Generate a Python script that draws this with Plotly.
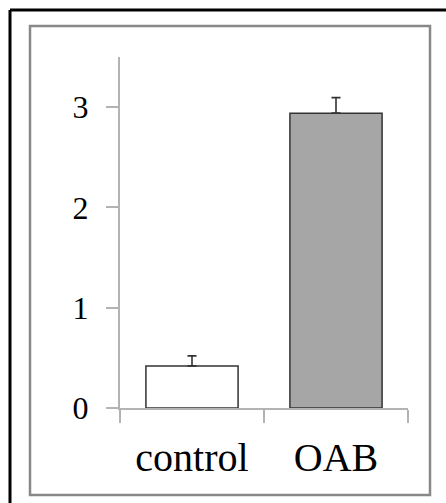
import plotly.graph_objects as go

categories = ["control", "OAB"]
values = [0.42, 2.94]
errors = [0.10, 0.155]
bar_colors = ["#ffffff", "#a6a6a6"]
y_ticks = [0, 1, 2, 3]

W, H = 446, 503
L, R, T, B = 120, 38, 57, 95

fig = go.Figure()
fig.add_trace(go.Bar(
    x=categories, y=values,
    width=0.64,
    marker=dict(color=bar_colors, line=dict(color="#333333", width=1.5)),
    error_y=dict(type="data", array=errors, arrayminus=[0, 0], symmetric=False,
                 color="#333333", thickness=1.6, width=4.5),
    showlegend=False,
))

pw = W - L - R
ph = H - T - B
def px(x):
    return (x - L) / pw
def py(y):
    return (H - B - y) / ph

fig.update_layout(
    width=W, height=H,
    margin=dict(l=L, r=R, t=T, b=B),
    paper_bgcolor="white", plot_bgcolor="white",
    font=dict(family="Liberation Serif", color="black"),
    xaxis=dict(type="category", range=[-0.5, 1.5], tickson="boundaries",
               ticks="outside", ticklen=13, tickwidth=2, tickcolor="#b3b3b3",
               showline=True, linecolor="#b3b3b3", linewidth=2,
               showgrid=False, zeroline=False,
               tickfont=dict(size=40, family="Liberation Serif", color="black"),
               ticklabelstandoff=13),
    yaxis=dict(range=[0, 3.5], tickvals=y_ticks,
               ticks="outside", ticklen=12, tickwidth=2, tickcolor="#b3b3b3",
               showline=True, linecolor="#b3b3b3", linewidth=2,
               showgrid=False, zeroline=False,
               tickfont=dict(size=32, family="Liberation Serif", color="black"),
               ticklabelstandoff=11),
    shapes=[
        dict(type="rect", xref="paper", yref="paper",
             x0=px(30), x1=px(430), y0=py(495), y1=py(26),
             line=dict(color="#888888", width=2.5), layer="below"),
        dict(type="line", xref="paper", yref="paper",
             x0=px(10), x1=px(446), y0=py(10), y1=py(10),
             line=dict(color="black", width=3)),
        dict(type="line", xref="paper", yref="paper",
             x0=px(10), x1=px(10), y0=py(10), y1=py(503),
             line=dict(color="black", width=3)),
    ],
)

fig.write_html("out.html", config={"displayModeBar": False},
               post_script="document.body.style.margin='0';document.body.style.overflow='hidden';")
